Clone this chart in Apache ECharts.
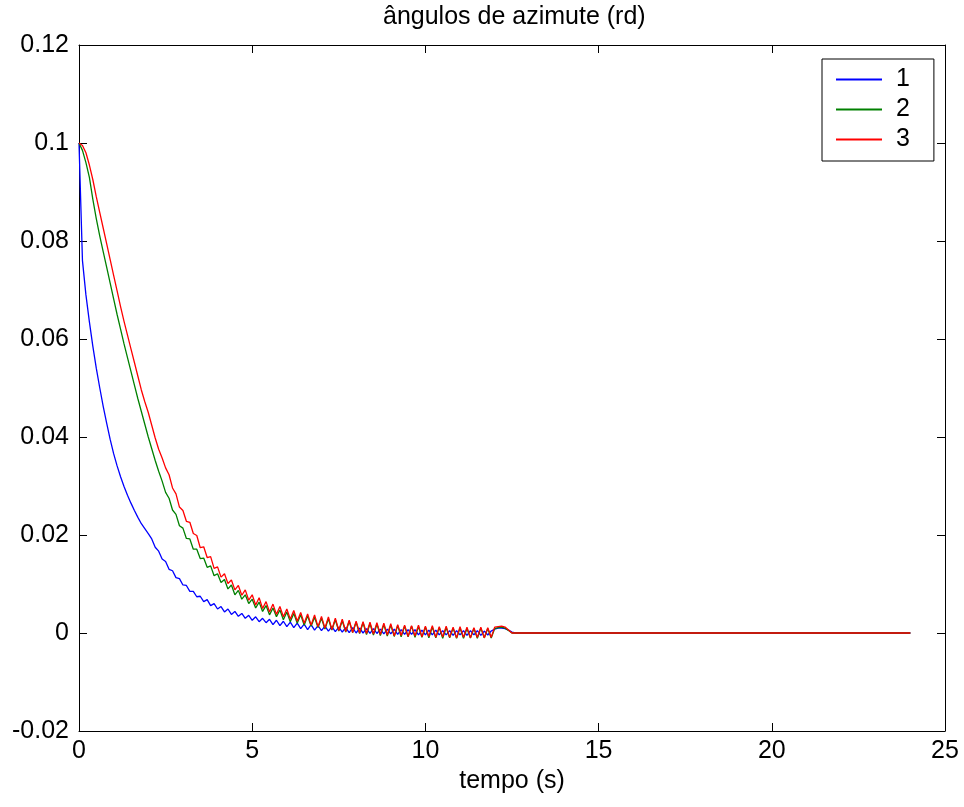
<!DOCTYPE html>
<html>
<head>
<meta charset="utf-8">
<title>ângulos de azimute (rd)</title>
<script src="https://cdn.jsdelivr.net/npm/echarts@6/dist/echarts.min.js"></script>
<style>
  html, body { margin: 0; padding: 0; background: #fff; }
  #chart { width: 964px; height: 807px; }
</style>
</head>
<body>
<div id="chart"></div>
<script>
// Azimuth angle responses (rad), sampled every 0.1 s from 0 to 12.6 s,
// followed by the resting value held until the end of the simulation.
const SAMPLE_STEP = 0.1;
const T_END = 24;

const seriesNames = ['1', '2', '3'];

const angulo1 = [
  0.1000, 0.0760, 0.0690, 0.0635, 0.0585, 0.0540, 0.0500, 0.0462, 0.0428, 0.0395,
  0.0366, 0.0341, 0.0319, 0.0299, 0.0281, 0.0265, 0.0250, 0.0236, 0.0223, 0.0213,
  0.0203, 0.0192, 0.0175, 0.0167, 0.0151, 0.0146, 0.0130, 0.0127, 0.0113, 0.0111,
  0.0098, 0.0097, 0.0085, 0.0085, 0.0074, 0.0075, 0.0064, 0.0068, 0.0056, 0.0060,
  0.0049, 0.0054, 0.0043, 0.0049, 0.0038, 0.0044, 0.0034, 0.0040, 0.0030, 0.0036,
  0.0026, 0.0033, 0.0023, 0.0030, 0.0021, 0.0028, 0.0017, 0.0026, 0.0015, 0.0024,
  0.0013, 0.0022, 0.0011, 0.0020, 0.0009, 0.0018, 0.0007, 0.0017, 0.0006, 0.0015,
  0.0005, 0.0014, 0.0004, 0.0013, 0.0003, 0.0012, 0.0002, 0.0011, 0.0001, 0.0011,
  0.0000, 0.0010, 0.0000, 0.0009, -0.0001, 0.0009, -0.0001, 0.0008, -0.0002, 0.0008,
  -0.0002, 0.0008, -0.0003, 0.0007, -0.0003, 0.0007, -0.0003, 0.0007, -0.0004, 0.0006,
  -0.0004, 0.0006, -0.0004, 0.0006, -0.0004, 0.0005, -0.0004, 0.0005, -0.0005, 0.0005,
  -0.0004, 0.0005, -0.0005, 0.0005, -0.0004, 0.0005, -0.0005, 0.0004, -0.0004, 0.0004,
  0.0008, 0.0010, 0.0010, 0.0009, 0.0006, 0.0002, 0.0000,
  0.0000
];

const angulo2 = [
  0.1000, 0.0985, 0.0960, 0.0930, 0.0885, 0.0845, 0.0810, 0.0778, 0.0746, 0.0714,
  0.0682, 0.0650, 0.0620, 0.0590, 0.0562, 0.0534, 0.0506, 0.0478, 0.0452, 0.0426,
  0.0400, 0.0376, 0.0352, 0.0330, 0.0310, 0.0287, 0.0275, 0.0251, 0.0242, 0.0219,
  0.0214, 0.0193, 0.0192, 0.0171, 0.0171, 0.0152, 0.0153, 0.0134, 0.0137, 0.0117,
  0.0121, 0.0103, 0.0109, 0.0090, 0.0098, 0.0078, 0.0087, 0.0069, 0.0078, 0.0060,
  0.0069, 0.0051, 0.0063, 0.0044, 0.0056, 0.0037, 0.0051, 0.0033, 0.0047, 0.0027,
  0.0043, 0.0023, 0.0040, 0.0020, 0.0037, 0.0016, 0.0035, 0.0014, 0.0032, 0.0011,
  0.0030, 0.0008, 0.0029, 0.0006, 0.0027, 0.0004, 0.0025, 0.0002, 0.0024, 0.0001,
  0.0022, -0.0001, 0.0021, -0.0003, 0.0019, -0.0004, 0.0018, -0.0005, 0.0017, -0.0006,
  0.0016, -0.0007, 0.0015, -0.0008, 0.0014, -0.0008, 0.0014, -0.0009, 0.0013, -0.0009,
  0.0012, -0.0010, 0.0012, -0.0010, 0.0011, -0.0011, 0.0011, -0.0010, 0.0010, -0.0011,
  0.0010, -0.0011, 0.0009, -0.0010, 0.0009, -0.0011, 0.0010, -0.0010, 0.0009, -0.0010,
  0.0009, 0.0011, 0.0012, 0.0010, 0.0005, 0.0000, 0.0000,
  0.0000
];

const angulo3 = [
  0.1000, 0.0995, 0.0980, 0.0955, 0.0925, 0.0890, 0.0858, 0.0826, 0.0794, 0.0762,
  0.0730, 0.0698, 0.0666, 0.0636, 0.0608, 0.0580, 0.0552, 0.0524, 0.0496, 0.0472,
  0.0450, 0.0424, 0.0398, 0.0375, 0.0357, 0.0337, 0.0323, 0.0296, 0.0284, 0.0257,
  0.0250, 0.0228, 0.0226, 0.0203, 0.0199, 0.0174, 0.0176, 0.0154, 0.0156, 0.0132,
  0.0135, 0.0114, 0.0121, 0.0101, 0.0108, 0.0088, 0.0097, 0.0077, 0.0088, 0.0067,
  0.0078, 0.0057, 0.0072, 0.0050, 0.0064, 0.0043, 0.0059, 0.0038, 0.0054, 0.0033,
  0.0049, 0.0028, 0.0046, 0.0024, 0.0042, 0.0020, 0.0039, 0.0016, 0.0037, 0.0013,
  0.0034, 0.0010, 0.0033, 0.0007, 0.0030, 0.0005, 0.0028, 0.0003, 0.0026, 0.0001,
  0.0024, 0.0000, 0.0023, -0.0001, 0.0022, -0.0002, 0.0021, -0.0003, 0.0020, -0.0004,
  0.0019, -0.0006, 0.0017, -0.0005, 0.0016, -0.0007, 0.0015, -0.0006, 0.0016, -0.0008,
  0.0014, -0.0007, 0.0015, -0.0009, 0.0013, -0.0008, 0.0014, -0.0009, 0.0012, -0.0010,
  0.0013, -0.0009, 0.0012, -0.0010, 0.0011, -0.0009, 0.0012, -0.0010, 0.0011, -0.0009,
  0.0012, 0.0013, 0.0014, 0.0012, 0.0006, 0.0000, 0.0000,
  0.0000
];

const xTicks = { min: 0, max: 25, interval: 5 };
const yTicks = { min: -0.02, max: 0.12, interval: 0.02 };

const colors = ['#0000ff', '#008000', '#ff0000'];
const FONT = '"Liberation Sans", Arial, Helvetica, sans-serif';

// Pair each sample with its time; the last entry is the value held at T_END.
function withTime(values) {
  return values.map((v, i) => [
    i === values.length - 1 ? T_END : Number((i * SAMPLE_STEP).toFixed(1)),
    v
  ]);
}

const chart = echarts.init(document.getElementById('chart'), null, { renderer: 'canvas' });

const tickStyle = { inside: true, length: 8, lineStyle: { color: '#000', width: 1 } };
const lineStyleAxis = { show: true, onZero: false, lineStyle: { color: '#000', width: 1 } };
const labelStyle = { color: '#000', fontFamily: FONT, fontSize: 25 };

const option = {
  backgroundColor: '#fff',
  animation: false,
  title: {
    text: 'ângulos de azimute (rd)',
    left: 383,
    top: 5,
    padding: 0,
    textStyle: { color: '#000', fontFamily: FONT, fontSize: 25, fontWeight: 'normal' }
  },
  grid: { left: 79, top: 45, width: 866, height: 686, containLabel: false },
  legend: {
    data: seriesNames.map(n => ({ name: n, icon: 'rect' })),
    orient: 'vertical',
    left: 822,
    top: 59,
    padding: [8, 24, 9, 14],
    itemWidth: 46,
    itemHeight: 2,
    itemGap: 5,
    borderColor: '#000',
    borderWidth: 1,
    backgroundColor: '#fff',
    textStyle: { color: '#000', fontFamily: FONT, fontSize: 25, padding: [0, 0, 0, 9] }
  },
  xAxis: [
    {
      type: 'value', position: 'bottom',
      min: xTicks.min, max: xTicks.max, interval: xTicks.interval,
      name: 'tempo (s)', nameLocation: 'middle', nameGap: 38,
      nameTextStyle: { color: '#000', fontFamily: FONT, fontSize: 25 },
      axisLine: lineStyleAxis, axisTick: tickStyle,
      axisLabel: Object.assign({ margin: 8 }, labelStyle),
      splitLine: { show: false }
    },
    {
      type: 'value', position: 'top',
      min: xTicks.min, max: xTicks.max, interval: xTicks.interval,
      axisLine: lineStyleAxis, axisTick: tickStyle,
      axisLabel: { show: false }, splitLine: { show: false }
    }
  ],
  yAxis: [
    {
      type: 'value', position: 'left',
      min: yTicks.min, max: yTicks.max, interval: yTicks.interval,
      axisLine: lineStyleAxis, axisTick: tickStyle,
      axisLabel: Object.assign({
        margin: 10,
        formatter: v => String(parseFloat(v.toFixed(2)))
      }, labelStyle),
      splitLine: { show: false }
    },
    {
      type: 'value', position: 'right',
      min: yTicks.min, max: yTicks.max, interval: yTicks.interval,
      axisLine: lineStyleAxis, axisTick: tickStyle,
      axisLabel: { show: false }, splitLine: { show: false }
    }
  ],
  series: [angulo1, angulo2, angulo3].map((values, k) => ({
    name: seriesNames[k],
    type: 'line',
    xAxisIndex: 0,
    yAxisIndex: 0,
    data: withTime(values),
    symbol: 'none',
    smooth: false,
    color: colors[k],
    lineStyle: { color: colors[k], width: 1.3 },
    z: 2 + k
  }))
};

chart.setOption(option);
</script>
</body>
</html>
